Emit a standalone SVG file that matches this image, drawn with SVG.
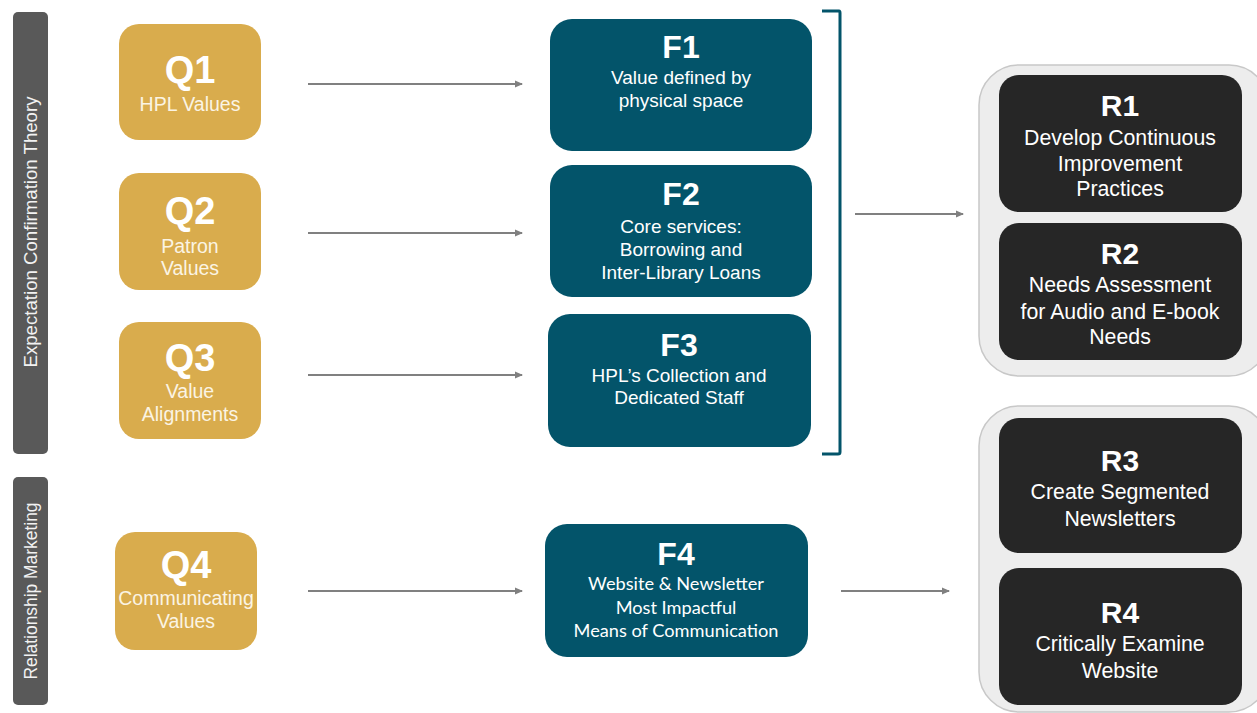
<svg xmlns="http://www.w3.org/2000/svg" width="1257" height="713" viewBox="0 0 1257 713">
<defs>
<marker id="ah" markerWidth="8" markerHeight="8" refX="7" refY="4" orient="auto" markerUnits="userSpaceOnUse">
<path d="M0,0.5 L8,4 L0,7.5 Z" fill="#808080"/>
</marker>
<style>
.bar{fill:#595959}
.q{fill:#D9AC4D}
.f{fill:#03546A}
.rc{fill:#EDEDED;stroke:#C8C8C8;stroke-width:1.5}
.r{fill:#262626}
text{font-family:"Liberation Sans",Arial,sans-serif;fill:#fff;text-anchor:middle}
.side{font-size:17.5px;fill:#F2F2F2}
.qt{font-size:38px;font-weight:bold}
.qs{font-size:19.5px;fill:#FBF4E4}
.ft{font-size:32px;font-weight:bold}
.fs{font-size:19px}
.fc{font-family:Lato,"Open Sans",sans-serif;font-size:18.2px}
.rt{font-size:30px;font-weight:bold}
.rs{font-size:21.3px}
.arr{stroke:#808080;stroke-width:2;fill:none;marker-end:url(#ah)}
</style>
</defs>
<rect width="1257" height="713" fill="#fff"/>
<g id="bar-ect">
<rect class="bar" x="13" y="12" width="35" height="442" rx="5"/>
<text class="side" transform="translate(37,232) rotate(-90)" textLength="271" lengthAdjust="spacingAndGlyphs">Expectation Confirmation Theory</text>
</g>
<g id="bar-rm">
<rect class="bar" x="13" y="477" width="35" height="228" rx="5"/>
<text class="side" transform="translate(37,591) rotate(-90)" textLength="177" lengthAdjust="spacingAndGlyphs">Relationship Marketing</text>
</g>
<g id="Q1">
<rect class="q" x="119" y="24" width="142" height="116" rx="20"/>
<text class="qt" x="190" y="83">Q1</text>
<text class="qs" x="190" y="111">HPL Values</text>
</g>
<g id="Q2">
<rect class="q" x="119" y="173" width="142" height="117" rx="20"/>
<text class="qt" x="190" y="224">Q2</text>
<text class="qs" x="190" y="253">Patron</text>
<text class="qs" x="190" y="275">Values</text>
</g>
<g id="Q3">
<rect class="q" x="119" y="322" width="142" height="117" rx="20"/>
<text class="qt" x="190" y="371">Q3</text>
<text class="qs" x="190" y="398">Value</text>
<text class="qs" x="190" y="421">Alignments</text>
</g>
<g id="Q4">
<rect class="q" x="115" y="532" width="142" height="118" rx="20"/>
<text class="qt" x="186" y="578">Q4</text>
<text class="qs" x="186" y="605">Communicating</text>
<text class="qs" x="186" y="628">Values</text>
</g>
<g id="F1">
<rect class="f" x="550" y="19" width="262" height="132" rx="22"/>
<text class="ft" x="681" y="58">F1</text>
<text class="fs" x="681" y="84">Value defined by</text>
<text class="fs" x="681" y="107">physical space</text>
</g>
<g id="F2">
<rect class="f" x="550" y="165" width="262" height="132" rx="22"/>
<text class="ft" x="681" y="205">F2</text>
<text class="fs" x="681" y="233">Core services:</text>
<text class="fs" x="681" y="256">Borrowing and</text>
<text class="fs" x="681" y="279">Inter-Library Loans</text>
</g>
<g id="F3">
<rect class="f" x="548" y="314" width="263" height="133" rx="22"/>
<text class="ft" x="679" y="356">F3</text>
<text class="fs" x="679" y="382">HPL’s Collection and</text>
<text class="fs" x="679" y="404">Dedicated Staff</text>
</g>
<g id="F4">
<rect class="f" x="545" y="524" width="263" height="133" rx="22"/>
<text class="ft" x="676" y="565">F4</text>
<text class="fc" x="676" y="590">Website &amp; Newsletter</text>
<text class="fc" x="676" y="614">Most Impactful</text>
<text class="fc" x="676" y="637">Means of Communication</text>
</g>
<g id="R-group-1">
<rect class="rc" x="979" y="65" width="290" height="311" rx="40"/>
</g>
<g id="R1">
<rect class="r" x="999" y="75" width="243" height="137" rx="20"/>
<text class="rt" x="1120" y="116">R1</text>
<text class="rs" x="1120" y="145">Develop Continuous</text>
<text class="rs" x="1120" y="171">Improvement</text>
<text class="rs" x="1120" y="196">Practices</text>
</g>
<g id="R2">
<rect class="r" x="999" y="223" width="243" height="137" rx="20"/>
<text class="rt" x="1120" y="264">R2</text>
<text class="rs" x="1120" y="292">Needs Assessment</text>
<text class="rs" x="1120" y="319">for Audio and E-book</text>
<text class="rs" x="1120" y="344">Needs</text>
</g>
<g id="R-group-2">
<rect class="rc" x="979" y="406" width="290" height="306" rx="40"/>
</g>
<g id="R3">
<rect class="r" x="999" y="418" width="243" height="135" rx="20"/>
<text class="rt" x="1120" y="471">R3</text>
<text class="rs" x="1120" y="499">Create Segmented</text>
<text class="rs" x="1120" y="526">Newsletters</text>
</g>
<g id="R4">
<rect class="r" x="999" y="568" width="243" height="137" rx="20"/>
<text class="rt" x="1120" y="623">R4</text>
<text class="rs" x="1120" y="651">Critically Examine</text>
<text class="rs" x="1120" y="678">Website</text>
</g>
<g id="connectors">
<path d="M822,11 L839,11 Q840,11 840,13 L840,452 Q840,454 838,454 L822,454" fill="none" stroke="#03546A" stroke-width="3"/>
<line class="arr" x1="308" y1="84" x2="522" y2="84"/>
<line class="arr" x1="308" y1="233" x2="522" y2="233"/>
<line class="arr" x1="308" y1="375" x2="522" y2="375"/>
<line class="arr" x1="308" y1="591" x2="522" y2="591"/>
<line class="arr" x1="855" y1="214" x2="963" y2="214"/>
<line class="arr" x1="841" y1="591" x2="949" y2="591"/>
</g>
</svg>
